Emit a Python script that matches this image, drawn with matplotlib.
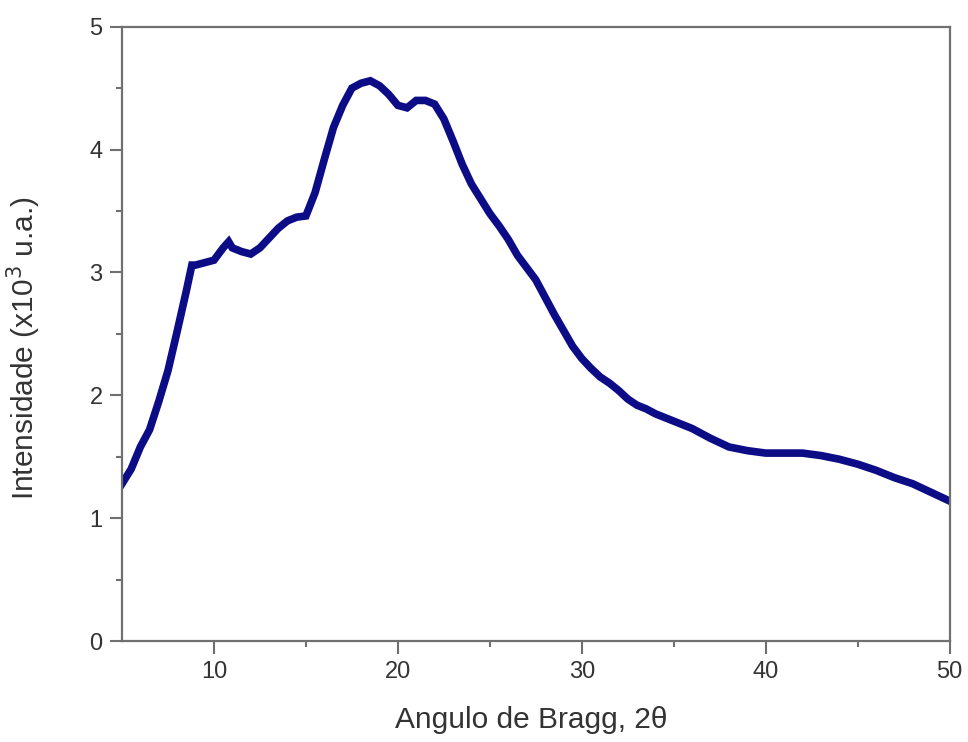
import matplotlib.pyplot as plt

# diffractogram (2theta in degrees, intensity x10^3 a.u.)
two_theta = [5.0, 5.5, 6.0, 6.5, 7.0, 7.5, 8.0, 8.5, 8.8, 9.0, 9.5, 10.0, 10.5, 10.8,
             11.0, 11.5, 12.0, 12.5, 13.0, 13.5, 14.0, 14.5, 15.0, 15.5, 16.0, 16.5,
             17.0, 17.5, 18.0, 18.5, 19.0, 19.5, 20.0, 20.5, 21.0, 21.5, 22.0, 22.5,
             23.0, 23.5, 24.0, 24.5, 25.0, 25.5, 26.0, 26.5, 27.0, 27.5, 28.0, 28.5,
             29.0, 29.5, 30.0, 30.5, 31.0, 31.5, 32.0, 32.5, 33.0, 33.5, 34.0, 35.0,
             36.0, 37.0, 38.0, 39.0, 40.0, 41.0, 42.0, 43.0, 44.0, 45.0, 46.0, 47.0,
             48.0, 49.0, 50.0]
intensity = [1.28, 1.40, 1.58, 1.72, 1.95, 2.20, 2.52, 2.85, 3.06, 3.06, 3.08, 3.10, 3.20, 3.25,
             3.20, 3.17, 3.15, 3.20, 3.28, 3.36, 3.42, 3.45, 3.46, 3.65, 3.92, 4.18,
             4.36, 4.50, 4.54, 4.56, 4.52, 4.45, 4.36, 4.34, 4.40, 4.40, 4.37, 4.25,
             4.07, 3.88, 3.72, 3.60, 3.48, 3.38, 3.27, 3.14, 3.04, 2.94, 2.80, 2.66,
             2.53, 2.40, 2.30, 2.22, 2.15, 2.10, 2.04, 1.97, 1.92, 1.89, 1.85, 1.79,
             1.73, 1.65, 1.58, 1.55, 1.53, 1.53, 1.53, 1.51, 1.48, 1.44, 1.39, 1.33,
             1.28, 1.21, 1.14]

x_ticks = [10, 20, 30, 40, 50]
y_ticks = [0, 1, 2, 3, 4, 5]

plt.rcParams['font.family'] = ['Liberation Sans', 'DejaVu Sans']

fig = plt.figure(figsize=(9.68, 7.42), dpi=100)
ax = fig.add_axes([0.126, 0.136, 0.855, 0.828])

ax.plot(two_theta, intensity, color="#0c0c86", linewidth=5.5, solid_joinstyle="miter")

ax.set_xlim(5, 50)
ax.set_ylim(0, 5)
ax.set_xticks(x_ticks)
ax.set_yticks(y_ticks)
ax.set_xticks([15, 25, 35, 45], minor=True)
ax.set_yticks([0.5, 1.5, 2.5, 3.5, 4.5], minor=True)

for s in ax.spines.values():
    s.set_color("#707070")
    s.set_linewidth(1.6)

ax.tick_params(which="major", direction="out", length=9, width=1.5, color="#707070",
               labelsize=17, labelcolor="#333333", pad=5)
ax.tick_params(which="minor", direction="out", length=4, width=1.5, color="#707070")

ax.set_xlabel("Angulo de Bragg, 2θ", fontsize=21.5, color="#333333")
ax.set_ylabel("Intensidade (x10$^3$ u.a.)", fontsize=21.5, color="#333333")
ax.xaxis.set_label_coords(0.495, -0.105)
ax.yaxis.set_label_coords(-0.095, 0.477)

plt.savefig("out.png", dpi=100)
